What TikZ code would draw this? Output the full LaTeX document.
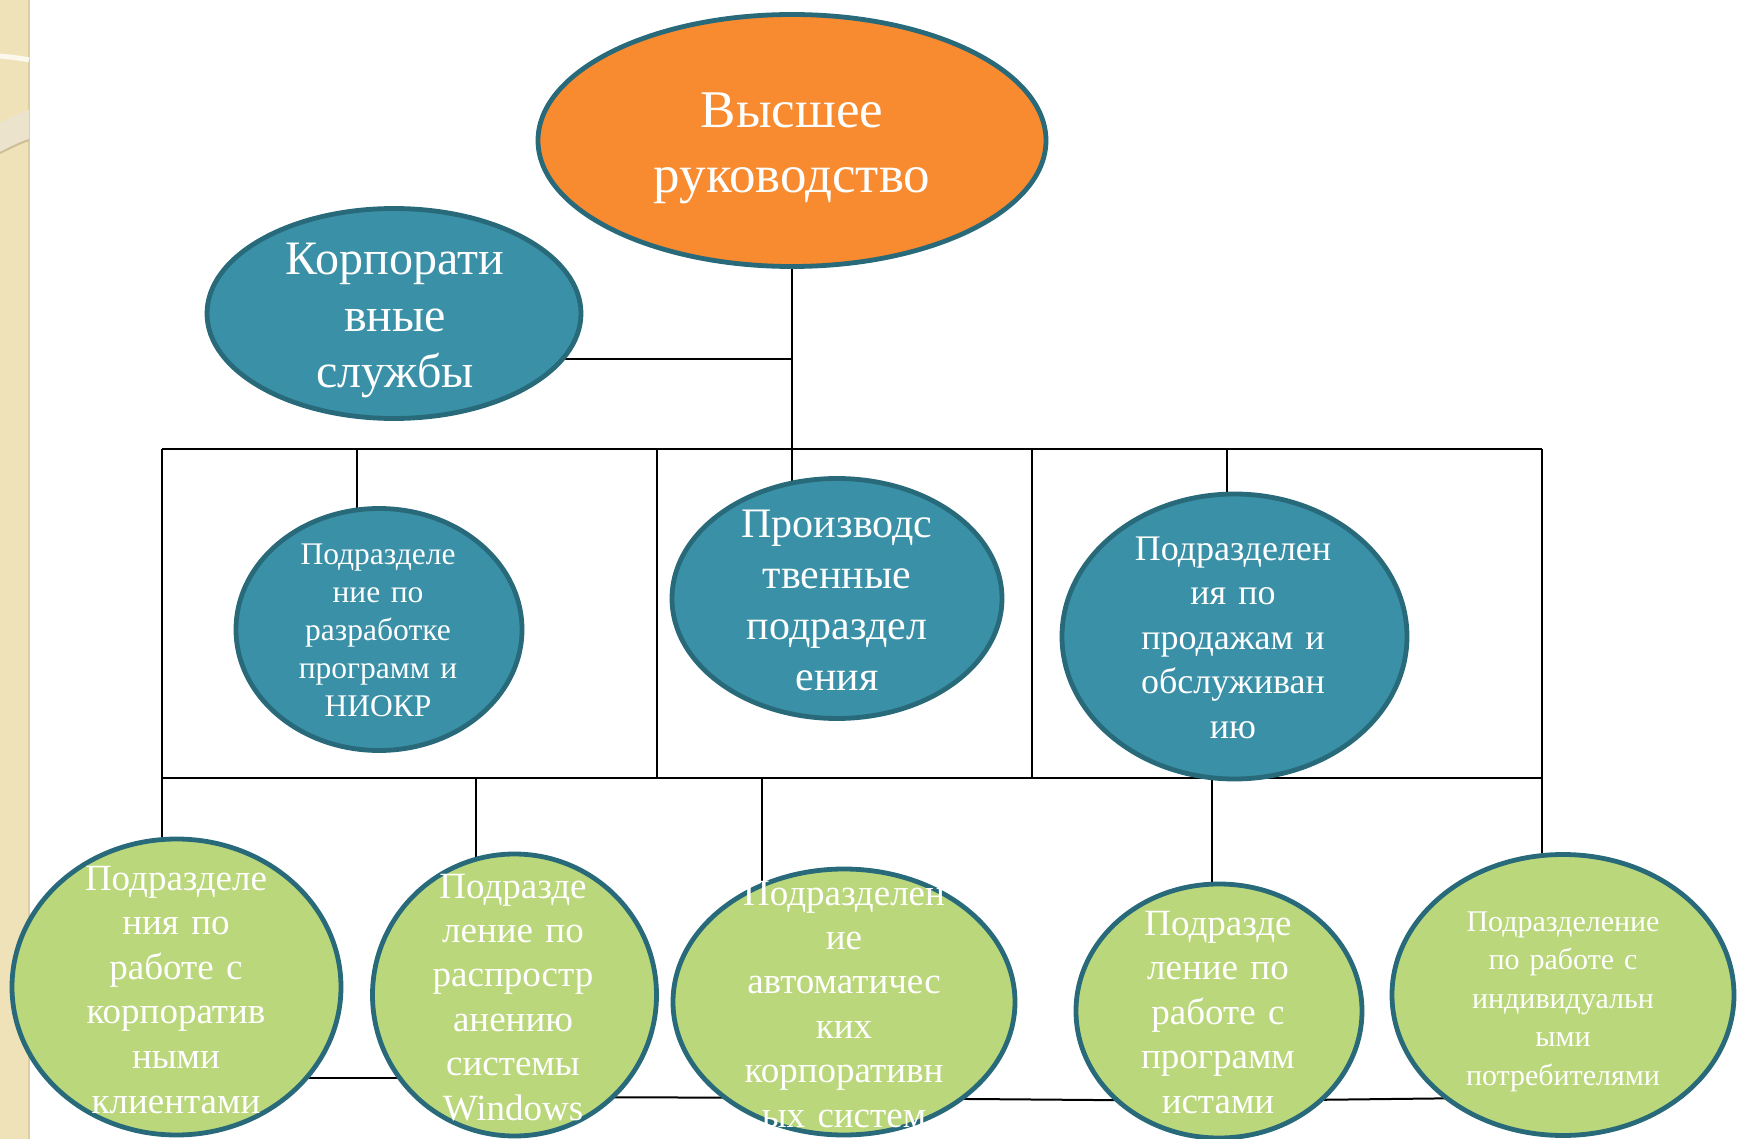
\documentclass[tikz,border=0pt]{standalone}
\usepackage{fontspec}
\setmainfont{Liberation Serif}
\usetikzlibrary{shapes.geometric,backgrounds}
\definecolor{orangefill}{RGB}{248,138,48}
\definecolor{tealfill}{RGB}{57,144,167}
\definecolor{edgecol}{RGB}{40,106,122}
\definecolor{greenfill}{RGB}{187,215,124}
\definecolor{stripcol}{RGB}{240,226,184}
\definecolor{stripedge}{RGB}{222,205,160}
\definecolor{bandcol}{RGB}{236,227,204}
\definecolor{bandedge}{RGB}{205,190,152}
\begin{document}
\begin{tikzpicture}[x=0.5pt,y=-0.5pt,
  oval/.style={ellipse, draw=edgecol, line width=2.4pt, inner sep=0pt},
  topoval/.style={oval, fill=orangefill},
  midoval/.style={oval, fill=tealfill},
  lowoval/.style={oval, fill=greenfill},
  conn/.style={draw=black, line width=1pt},
  lbl/.style={anchor=base, text=white, align=center, text width=230pt, inner sep=0pt}]
\useasboundingbox (0,0) rectangle (1737,1139);
\clip (0,0) rectangle (1737,1139);

% ellipses
\node[topoval, minimum width=254pt, minimum height=126pt] (top) at (792,140.5) {};
\node[midoval, minimum width=187pt, minimum height=105pt] (corp) at (394,313.5) {};
\node[midoval, minimum width=143pt, minimum height=121pt] (niokr) at (379,629.5) {};
\node[midoval, minimum width=165pt, minimum height=120pt] (prod) at (837,598.5) {};
\node[midoval, minimum width=172.5pt, minimum height=142.5pt] (sales) at (1234.5,636.5) {};
\node[lowoval, minimum width=164.5pt, minimum height=148pt] (g1) at (176.5,987) {};
\node[lowoval, minimum width=142pt, minimum height=141pt] (g2) at (514.5,995) {};
\node[lowoval, minimum width=171pt, minimum height=133pt] (g3) at (844,1002) {};
\node[lowoval, minimum width=143pt, minimum height=127pt] (g4) at (1219,1011) {};
\node[lowoval, minimum width=171pt, minimum height=140.5pt] (g5) at (1563,995) {};

% background: strip and connectors
\begin{pgfonlayer}{background}
\fill[stripcol] (0,0) rectangle (29,1139);
\draw[stripedge, line width=1pt] (29,0) -- (29,1139);
\draw[white!75!stripcol, line width=2.5pt] (0,56) .. controls (10,57) and (20,58) .. (29,60);
\fill[bandcol] (0,123) .. controls (10,118) and (20,113) .. (29,110) -- (29,140) .. controls (20,143) and (10,148) .. (0,153) -- cycle;
\draw[bandedge, line width=1pt] (0,153) .. controls (10,148) and (20,143) .. (29,140);

\coordinate (bTL) at (162,449);
\coordinate (bTR) at (1542,449);
\coordinate (bBL) at (162,778);
\coordinate (bBR) at (1542,778);
\coordinate (cj) at (792,359);
\coordinate (d1) at (357,449);
\coordinate (d2) at (1227,449);
\coordinate (s1) at (657,449);
\coordinate (s2) at (1032,449);
\coordinate (u1) at (476,778);
\coordinate (u2) at (762,778);
\coordinate (u3) at (1212,778);

\draw[conn] (bTL) -- (bTR);
\draw[conn] (bBL) -- (bBR);
\draw[conn] (top.south) -- (top.south |- prod.113);
\draw[conn] (cj) -- (cj -| corp.-17);
\draw[conn] (bTL) -- (bTL |- g1.97);
\draw[conn] (bTR) -- (bTR |- g5.100);
\draw[conn] (d1) -- (d1 |- niokr.102);
\draw[conn] (d2) -- (d2 |- sales.95);
\draw[conn] (s1) -- (s1 |- bBL);
\draw[conn] (s2) -- (s2 |- bBL);
\draw[conn] (u1) -- (u1 |- g2.108);
\draw[conn] (u2) -- (u2 |- g3.128);
\draw[conn] (u3) -- (u3 |- g4.95);
\draw[conn] (g1.center |- 0,1078) -- (g2.center |- 0,1078);
\draw[conn] (g2.center |- 0,1097) -- (g3.center |- 0,1098) -- (g4.center |- 0,1101) -- (g5.center |- 0,1097);
\end{pgfonlayer}

% texts
\node[lbl, font=\fontsize{26.5pt}{32.5pt}\selectfont] (t0) at (792,128) {Высшее\\руководство};
\node[lbl, font=\fontsize{24pt}{28.25pt}\selectfont] (t1) at (395,275) {Корпорати\\вные\\службы};
\node[lbl, font=\fontsize{15.75pt}{19.1pt}\selectfont] (t2) at (378,564) {Подразделе\\ние по\\разработке\\программ и\\НИОКР};
\node[lbl, font=\fontsize{21pt}{25.35pt}\selectfont] (t3) at (837,538) {Производс\\твенные\\подраздел\\ения};
\node[lbl, font=\fontsize{18pt}{22.25pt}\selectfont] (t4) at (1233,560) {Подразделен\\ия по\\продажам и\\обслуживан\\ию};
\node[lbl, font=\fontsize{18.5pt}{22.3pt}\selectfont] (t5) at (176,890) {Подразделе\\ния по\\работе с\\корпоратив\\ными\\клиентами};
\node[lbl, font=\fontsize{18.5pt}{22.2pt}\selectfont] (t6) at (513,898) {Подразде\\ление по\\распростр\\анению\\системы\\Windows};
\node[lbl, font=\fontsize{18.5pt}{22.2pt}\selectfont] (t7) at (844,905) {Подразделен\\ие\\автоматичес\\ких\\корпоративн\\ых систем};
\node[lbl, font=\fontsize{18.5pt}{22.25pt}\selectfont] (t8) at (1218,935) {Подразде\\ление по\\работе с\\программ\\истами};
\node[lbl, font=\fontsize{15pt}{19.3pt}\selectfont] (t9) at (1563,931) {Подразделение\\по работе с\\индивидуальн\\ыми\\потребителями};
\end{tikzpicture}
\end{document}
